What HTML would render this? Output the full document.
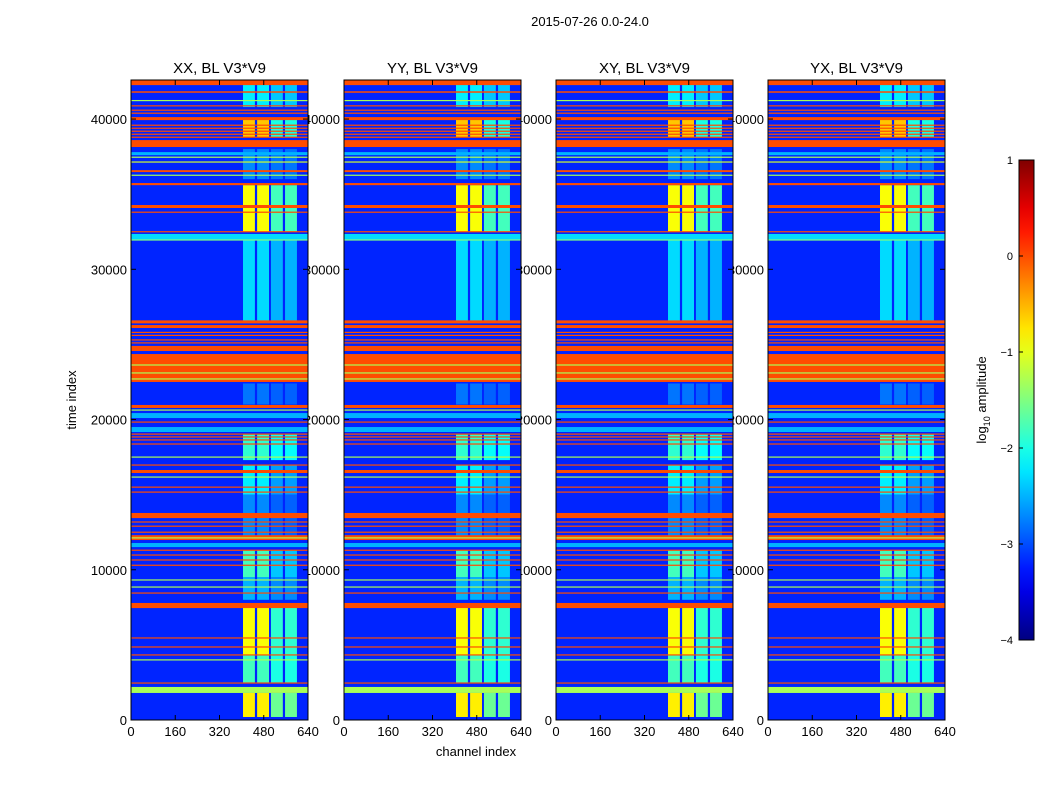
<!DOCTYPE html>
<html><head><meta charset="utf-8"><style>
body{margin:0;background:#fff;}
svg{display:block;font-family:"Liberation Sans",sans-serif;}
</style></head><body>
<svg id="fig" width="1050" height="800" viewBox="0 0 1050 800" xmlns="http://www.w3.org/2000/svg">
<rect width="1050" height="800" fill="#fff"/>
<text x="590" y="26" font-size="13" text-anchor="middle">2015-07-26 0.0-24.0</text>
<text transform="translate(76,400) rotate(-90)" font-size="13" text-anchor="middle">time index</text>
<text x="476" y="756" font-size="13" text-anchor="middle">channel index</text>
<g id="labels"></g>
<g id="panels"></g>
<g id="cbar"></g>
</svg>
<script>
// ---- data (time in thousands of samples, channels, log10 amplitude) ----
const panelTitles = ["XX, BL V3*V9","YY, BL V3*V9","XY, BL V3*V9","YX, BL V3*V9"];
const xTicks = [0,160,320,480,640];
const yTicks = [0,10000,20000,30000,40000];
const cbTicks = [1,0,-1,-2,-3,-4];
const backgroundLevel = -3.2;
const columnChannels = [[405,448],[456,499],[506,549],[557,600]];
// [tStart, tEnd, level for columns 1-2, level for columns 3-4]
const columnSegments = [
 [40.8,42.3,-2.2,-2.4],[38.8,40.0,-0.6,-2.0],[36.0,38.0,-2.7,-2.8],
 [32.5,35.6,-0.9,-1.8],[26.5,32.0,-2.3,-2.5],[21.0,22.4,-2.8,-2.9],
 [17.3,19.0,-1.9,-2.1],[15.0,17.0,-2.2,-2.6],[12.0,15.0,-2.7,-2.9],
 [9.5,11.3,-1.8,-2.4],[8.0,9.5,-2.5,-2.7],[4.3,7.5,-0.9,-1.9],
 [2.5,4.3,-1.8,-2.0],[0.2,1.8,-0.8,-1.6]];
// horizontal flagged rows [tStart, tEnd, level]
const rowBands = [
 [42.26,42.6,0],[41.75,41.85,0],[40.85,40.92,0],[41.2,41.27,-1.3],[40.55,40.63,0],[40.35,40.43,0],
 [39.93,40.13,0],[39.55,39.63,0],[39.35,39.43,0],[39.15,39.23,0],[38.95,39.03,0],[38.75,38.83,0],
 [38.14,38.6,0],[37.6,37.8,-2.5],[37.43,37.5,-1.3],[37.1,37.18,-1.1],[36.47,36.6,0],[36.23,36.3,-1.3],
 [35.6,35.74,0],[34.08,34.28,0],[33.76,33.84,0],[32.46,32.54,0],[31.95,32.35,-2.3],[31.93,31.99,-1.5],
 [26.4,26.6,0],[26.09,26.29,0],[25.76,25.84,0],[25.56,25.64,0],[25.26,25.34,0],[25.06,25.14,0],
 [24.56,24.9,0],[22.5,24.36,0],[23.6,23.67,-1.3],[23.07,23.14,-1.3],[22.67,22.74,-1.3],
 [20.77,20.97,0],[20.6,20.67,-1.3],[20.1,20.43,-2.5],[19.79,19.87,0],[19.17,19.5,-2.5],
 [18.99,19.07,0],[18.8,18.88,0],[18.6,18.68,0],[18.33,18.41,0],[17.46,17.54,-1.3],[16.93,17.01,0],
 [16.44,16.64,0],[16.13,16.21,-1.3],[15.46,15.54,0],[15.13,15.21,0],[13.44,13.78,0],[13.14,13.22,0],
 [12.86,12.94,0],[12.46,12.54,0],[11.98,12.3,0],[12.1,12.16,-1.3],[11.51,11.78,-2.5],[11.26,11.34,0],
 [10.94,11.02,0],[10.61,10.69,0],[10.26,10.34,0],[9.28,9.36,-1.3],[8.81,8.89,-1.3],[8.41,8.49,0],
 [7.45,7.79,0],[5.42,5.5,0],[4.82,4.9,0],[4.29,4.37,0],[3.96,4.04,-1.3],[2.42,2.5,0],[1.8,2.2,-1.3]];

// ---- geometry ----
const panelX = [131,344,556,768], PW = 177, PT = 80, PB = 720;
const tMax = 42.6; // thousands
function ty(t){ return PB - (t/tMax)*(PB-PT); }
function cx(px, c){ return px + c/640*PW; }
function jet(v){
  const x = Math.max(0,Math.min(1,(v+4)/5));
  const cl = a=>Math.round(255*Math.max(0,Math.min(1,a)));
  return `rgb(${cl(Math.min(4*x-1.5,-4*x+4.5))},${cl(Math.min(4*x-0.5,-4*x+3.5))},${cl(Math.min(4*x+0.5,-4*x+2.5))})`;
}
const NS="http://www.w3.org/2000/svg";
function mk(tag, attrs, parent){ const e=document.createElementNS(NS,tag); for(const k in attrs) e.setAttribute(k,attrs[k]); parent.appendChild(e); return e; }

const labels = document.getElementById('labels');
const panels = document.getElementById('panels');
panelX.forEach((px,i)=>{
  yTicks.forEach(v=>{
    const t = mk('text',{x:px-4,y:ty(v/1000)+5,'font-size':13,'text-anchor':'end'},labels);
    
    
    t.textContent = v;
  });
  xTicks.forEach(v=>{
    const t = mk('text',{x:cx(px,v),y:736,'font-size':13,'text-anchor':'middle'},labels);
    
    
    t.textContent = v;
  });
});
panelX.forEach((px,i)=>{
  const g = mk('g',{},panels);
  
  
  const bg = mk('rect',{x:px,y:PT,width:PW,height:PB-PT,fill:jet(backgroundLevel)},g);
  
  
  columnSegments.forEach(s=>{
    columnChannels.forEach((c,j)=>{
      const lv = j<2 ? s[2] : s[3];
      const r = mk('rect',{x:cx(px,c[0]),y:ty(s[1]),width:cx(px,c[1])-cx(px,c[0]),height:ty(s[0])-ty(s[1]),fill:jet(lv)},g);
      
      
    });
  });
  rowBands.forEach(b=>{
    const r = mk('rect',{x:px,y:ty(b[1]),width:PW,height:Math.max(1.2,ty(b[0])-ty(b[1])),fill:jet(b[2])},g);
    
    
  });
  const fr = mk('rect',{x:px,y:PT,width:PW,height:PB-PT,fill:'none',stroke:'#000','stroke-width':1},g);
  
  
  xTicks.forEach(v=>{
    mk('line',{x1:cx(px,v),x2:cx(px,v),y1:PB,y2:PB-5,stroke:'#000'},g);
    mk('line',{x1:cx(px,v),x2:cx(px,v),y1:PT,y2:PT+5,stroke:'#000'},g);
  });
  yTicks.forEach(v=>{
    mk('line',{x1:px,x2:px+5,y1:ty(v/1000),y2:ty(v/1000),stroke:'#000'},g);
    mk('line',{x1:px+PW,x2:px+PW-5,y1:ty(v/1000),y2:ty(v/1000),stroke:'#000'},g);
  });
  const tt = mk('text',{x:px+PW/2,y:73,'font-size':15,'text-anchor':'middle'},g);
  
  
  tt.textContent = panelTitles[i];
});

// ---- colorbar ----
const cb = document.getElementById('cbar');


const CBX=1019, CBW=15, CBT=160, CBB=640;
const defs = mk('defs',{},cb);
const grad = mk('linearGradient',{id:'jetg',x1:0,y1:1,x2:0,y2:0},defs);
for(let k=0;k<=20;k++){ mk('stop',{offset:k/20,'stop-color':jet(-4+5*k/20)},grad); }
mk('rect',{x:CBX,y:CBT,width:CBW,height:CBB-CBT,fill:'url(#jetg)',stroke:'#000'},cb);
cbTicks.forEach(v=>{
  const y = CBB - (v+4)/5*(CBB-CBT);
  mk('line',{x1:CBX,x2:CBX+4,y1:y,y2:y,stroke:'#000'},cb);
  const t = mk('text',{x:CBX-6,y:y+4,'font-size':11,'text-anchor':'end'},cb);
  
  
  t.textContent = v<0 ? '\u2212'+Math.abs(v) : v;
});
const cl = mk('text',{transform:'translate(986,400) rotate(-90)','font-size':13,'text-anchor':'middle'},cb);


cl.innerHTML = 'log<tspan font-size="9" dy="4">10</tspan><tspan dy="-4"> amplitude</tspan>';
</script>
</body></html>
